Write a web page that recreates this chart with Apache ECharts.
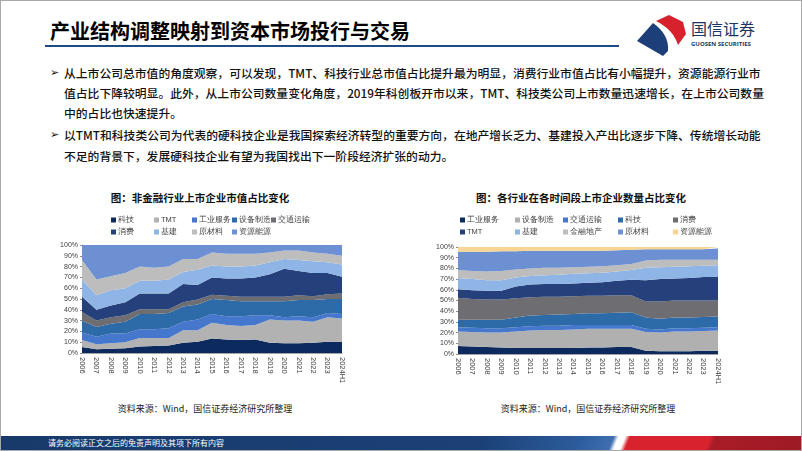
<!DOCTYPE html>
<html>
<head>
<meta charset="utf-8">
<script src="https://cdn.jsdelivr.net/npm/echarts@6/dist/echarts.min.js"></script>
<style>
  body { margin: 0; }
  #slide { position: relative; width: 802px; height: 451px; overflow: hidden; background: #fff;
           font-family: "Noto Sans CJK SC", sans-serif; color: #111; }
  .abs { position: absolute; white-space: nowrap; }
  .line { font-size: 11.8px; line-height: 20px; left: 64px; font-weight: 500; }
  .bullet { font-size: 11px; line-height: 20px; left: 50px; font-family: "DejaVu Sans", sans-serif; }
  .ctitle { font-size: 10.5px; font-weight: bold; line-height: 14px; transform: translateX(-50%); }
  .src { font-size: 9px; line-height: 12px; color: #222; transform: translateX(-50%); }
</style>
</head>
<body>
<div id="slide">
  <!-- 标题栏 -->
  <div class="abs" style="left:50px;top:20px;font-size:20px;font-weight:bold;line-height:22px;color:#000;">产业结构调整映射到资本市场投行与交易</div>
  <div class="abs" style="left:45px;top:45px;width:574px;height:2px;background:#1f4a86;"></div>
  <svg class="abs" style="left:636px;top:14px;" width="54" height="44" viewBox="0 0 54 44">
    <path d="M20,7 L33,1 L47,8 L50,20 L42,31 C39,21 32,13 20,7 Z" fill="#d7212c"/>
    <path d="M1,27 L17,9 C27,16 33,25 32,37 L27,42 Z" fill="#1d3f79"/>
  </svg>
  <div class="abs" style="left:691px;top:19px;font-size:16px;line-height:18px;color:#1d3463;">国信证券</div>
  <div class="abs" style="left:691px;top:40px;font-size:6px;line-height:8px;font-weight:bold;color:#1d3463;font-family:'Open Sans',sans-serif;">GUOSEN SECURITIES</div>

  <!-- 正文 -->
  <div class="abs bullet" style="top:63px;">➢</div>
  <div class="abs line" style="top:63px;">从上市公司总市值的角度观察，可以发现，TMT、科技行业总市值占比提升最为明显，消费行业市值占比有小幅提升，资源能源行业市</div>
  <div class="abs line" style="top:83px;">值占比下降较明显。此外，从上市公司数量变化角度，2019年科创板开市以来，TMT、科技类公司上市数量迅速增长，在上市公司数量</div>
  <div class="abs line" style="top:103px;">中的占比也快速提升。</div>
  <div class="abs bullet" style="top:125px;">➢</div>
  <div class="abs line" style="top:125px;">以TMT和科技类公司为代表的硬科技企业是我国探索经济转型的重要方向，在地产增长乏力、基建投入产出比逐步下降、传统增长动能</div>
  <div class="abs line" style="top:146px;">不足的背景下，发展硬科技企业有望为我国找出下一阶段经济扩张的动力。</div>

  <!-- 图表标题 -->
  <div class="abs ctitle" style="left:200px;top:191px;">图：非金融行业上市企业市值占比变化</div>
  <div class="abs ctitle" style="left:581px;top:191px;">图：各行业在各时间段上市企业数量占比变化</div>

  <div id="chart1" class="abs" style="left:0;top:185px;width:400px;height:205px;"></div>
  <div id="chart2" class="abs" style="left:400px;top:185px;width:402px;height:205px;"></div>

  <div class="abs src" style="left:205px;top:403px;">资料来源：Wind，国信证券经济研究所整理</div>
  <div class="abs src" style="left:588px;top:403px;">资料来源：Wind，国信证券经济研究所整理</div>

  <!-- 页脚 -->
  <div class="abs" style="left:0;top:436px;width:802px;height:15px;
       background:linear-gradient(112deg,#173a6b 0,#1b4177 60%,#2d5c9c 72%,#3f6fb0 76%,#ffffff 76.6%,#ffffff 77.4%,#d8222d 78%,#d8222d 88%,#a81c27 88.6%,#9e1a25 100%);"></div>
  <div class="abs" style="left:48px;top:437px;font-size:8px;line-height:12px;color:#fff;">请务必阅读正文之后的免责声明及其项下所有内容</div>
  <div class="abs" style="left:0;top:0;width:800px;height:449px;border:1px solid #a8a8a8;pointer-events:none;"></div>
</div>

<script>
// 年份
const years = ['2006', '2007', '2008', '2009', '2010', '2011', '2012', '2013', '2014', '2015',
  '2016', '2017', '2018', '2019', '2020', '2021', '2022', '2023', '2024H1'];

// 左图：非金融行业上市企业市值占比（%）
const names1 = ['科技', 'TMT', '工业服务', '设备制造', '交通运输', '消费', '基建', '原材料', '资源能源'];
const tech1 = [5.5, 3.5, 4, 4.5, 6, 6.5, 7, 9.5, 10.5, 13.5, 12.5, 12, 12.5, 9.5, 9, 9, 9.5, 10.5, 10.5];
const tmt1 = [6.5, 4.5, 5, 5.5, 8, 7.5, 7, 11.5, 10.5, 14.5, 13.5, 13, 13.5, 21.5, 21, 21, 19.5, 22.5, 21.5];
const indSvc1 = [7, 7, 9, 8, 8, 8, 9, 8, 10, 8, 8, 9, 9, 4, 3, 4, 4, 4, 4];
const equip1 = [11, 9, 9, 11, 14, 14, 14, 14, 14, 14, 15, 14, 13, 13, 15, 15, 16, 13, 14];
const trans1 = [8, 6, 6, 6, 4.5, 4.5, 3.5, 4, 4.5, 4, 4, 4, 4, 4, 4, 4.5, 3.5, 4.5, 5];
const cons1 = [14, 10, 11, 12, 14.5, 14.5, 14.5, 17, 13.5, 16, 16, 17, 18, 21, 26, 22.5, 21.5, 19.5, 15.5];
const infra1 = [16, 13.5, 14, 13, 12, 12, 13, 11, 14, 11, 11, 11, 11, 11, 9, 10, 11, 10, 11.5];
const mat1 = [18, 14.5, 13, 14, 13, 12, 12, 12, 10, 12, 12, 12, 11, 9, 8, 9, 8, 8, 8];
const energy1 = [14, 32, 29, 26, 20, 21, 20, 13, 13, 7, 8, 8, 8, 7, 5, 5, 7, 8, 10];
const colors1 = ['#0d2a5e', '#b2b2b2', '#4577cc', '#2d6aa8', '#6e6e72', '#25407a', '#8fb5e6', '#bdbdbd', '#6d90d2'];

// 右图：各行业上市企业数量占比（%）
const names2 = ['工业服务', '设备制造', '交通运输', '科技', '消费', 'TMT', '基建', '金融地产', '原材料', '资源能源'];
const indSvc2 = [7.5, 7, 6.5, 6, 5.5, 5.5, 5.5, 5.5, 5.5, 6, 6, 6.5, 6.5, 3, 2.5, 2.5, 2.5, 3, 3];
const equip2 = [13.5, 13.5, 13.5, 14, 15.5, 16.5, 17, 17, 17.5, 17.5, 17.5, 17, 17, 17.5, 17.5, 18.5, 18.5, 18.5, 19];
const trans2 = [4, 4, 4, 4, 4, 4, 4, 4, 4, 3.5, 3.5, 3.5, 3.5, 3, 3, 3, 3, 3, 3];
const tech2 = [7, 7.5, 8, 8, 9, 10, 10, 10.5, 10.5, 11, 11, 11.5, 12, 10.5, 10, 10, 10, 10, 10];
const cons2 = [20.5, 19.5, 19, 19, 18, 17, 17, 16.5, 16.5, 16.5, 16.5, 16.5, 16, 15, 16, 16, 16, 15.5, 15];
const tmt2 = [8, 8, 8, 8, 11, 12, 12, 12, 12, 12, 12.5, 13.5, 14.5, 20, 21, 20.5, 21, 22, 22];
const infra2 = [10.5, 10.5, 10, 10, 8.5, 8, 8, 8.5, 9, 9, 9, 8.5, 9, 11.5, 11, 11, 11, 10.5, 11];
const fin2 = [7.5, 7.5, 8, 8.5, 7.5, 7, 7, 6.5, 6, 6, 6, 6, 5.5, 7, 7, 6.5, 6, 5.5, 5];
const mat2 = [17, 18, 18.5, 18.5, 17, 16.5, 16, 16, 15.5, 15, 14.5, 14, 13.5, 10.5, 10, 10, 10, 10, 10.5];
const energy2 = [4.5, 4.5, 4.5, 4, 4, 3.5, 3.5, 3.5, 3.5, 3.5, 3.5, 3, 2.5, 2, 2, 2, 2, 2, 1.5];
const colors2 = ['#0d2a5e', '#b0b0b0', '#4577cc', '#2d6aa8', '#6e6e72', '#25407a', '#8fb5e6', '#bdbdbd', '#6d90d2', '#f8d593'];

function makeSeries(names, values, colors) {
  return names.map((n, i) => ({
    name: n,
    type: 'line',
    stack: 'total',
    data: values[i],
    symbol: 'none',
    lineStyle: { width: 0 },
    itemStyle: { color: colors[i] },
    areaStyle: { color: colors[i], opacity: 1 },
    emphasis: { disabled: true },
    animation: false
  }));
}

// 图例按列排列，每列一个 legend
function makeLegends(columns, lefts) {
  return columns.map((col, i) => ({
    data: col,
    left: lefts[i],
    top: 25,
    orient: 'vertical',
    icon: 'rect',
    itemWidth: 5,
    itemHeight: 5,
    itemGap: 2,
    selectedMode: false,
    textStyle: { fontSize: 7.5, lineHeight: 10, color: '#404040', padding: [0, 0, 0, -3] }
  }));
}

function makeOption(grid, legends, series) {
  return {
    animation: false,
    grid: grid,
    legend: legends,
    xAxis: {
      type: 'category',
      data: years,
      boundaryGap: false,
      axisLine: { lineStyle: { color: '#8c8c8c', width: 0.8 } },
      axisTick: { show: false },
      axisLabel: { rotate: -90, interval: 0, fontSize: 7.5, margin: 4, color: '#404040', fontFamily: 'Liberation Sans' }
    },
    yAxis: {
      type: 'value',
      min: 0,
      max: 100,
      interval: 10,
      axisLine: { show: true, lineStyle: { color: '#8c8c8c', width: 0.8 } },
      axisTick: { show: true, length: 2, lineStyle: { color: '#8c8c8c' } },
      splitLine: { show: false },
      axisLabel: { formatter: '{value}%', fontSize: 7, margin: 4, color: '#404040', fontFamily: 'Liberation Sans' }
    },
    series: series
  };
}

const chart1 = echarts.init(document.getElementById('chart1'));
chart1.setOption(makeOption(
  { left: 82, top: 60, width: 260, height: 108 },
  makeLegends([['科技', '消费'], ['TMT', '基建'], ['工业服务', '原材料'], ['设备制造', '资源能源'], ['交通运输']],
    [106, 149, 187, 227, 266]),
  makeSeries(names1, [tech1, tmt1, indSvc1, equip1, trans1, cons1, infra1, mat1, energy1], colors1)
));

const chart2 = echarts.init(document.getElementById('chart2'));
chart2.setOption(makeOption(
  { left: 58, top: 62, width: 260, height: 107 },
  makeLegends([['工业服务', 'TMT'], ['设备制造', '基建'], ['交通运输', '金融地产'], ['科技', '原材料'], ['消费', '资源能源']],
    [55, 110, 158, 213, 268]),
  makeSeries(names2, [indSvc2, equip2, trans2, tech2, cons2, tmt2, infra2, fin2, mat2, energy2], colors2)
));
</script>
</body>
</html>
